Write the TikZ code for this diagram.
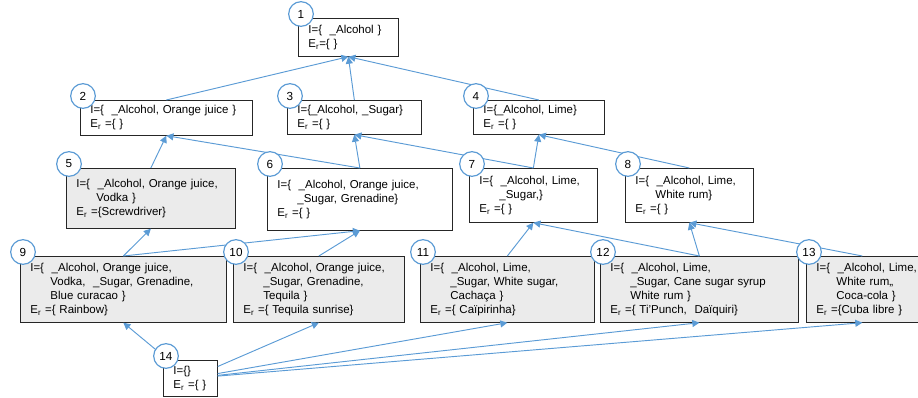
\documentclass[tikz,border=0pt]{standalone}
\usepackage{fontspec}
\setmainfont{Liberation Sans}
\usetikzlibrary{arrows.meta}

\definecolor{lineblue}{RGB}{91,155,213}
\definecolor{boxgrey}{RGB}{235,235,235}

% Folgezeile mit Einzug
\newcommand{\cont}{\\\hspace*{1.75em}}
\newcommand{\Er}{E\textsubscript{r}}

\tikzset{
	box/.style={draw=black!85, line width=0.6pt, fill=white, anchor=north west,
		align=left, inner xsep=0.3cm, inner ysep=0.1cm,
		font=\fontsize{9.8}{12}\selectfont},
	greybox/.style={box, fill=boxgrey},
	num/.style={circle, draw=lineblue, line width=1pt, fill=white,
		minimum size=0.74cm, inner sep=0pt, font=\fontsize{10}{12}\selectfont},
	edge/.style={draw=lineblue, line width=0.8pt,
		-{Triangle[length=6pt,width=6pt]}}
}

\begin{document}
\begin{tikzpicture}[x=0.03cm, y=-0.03cm]
	\useasboundingbox (0,0) rectangle (918,398);
	% Ebene 1
	\node[box, text width=2.4cm, minimum height=1.14cm] (n1) at (298,18)
		{I=\{\ \ \_Alcohol \}\\\Er=\{ \}};
	% Ebene 2
	\node[box, text width=4.56cm, minimum height=1.05cm] (n2) at (80,100)
		{I=\{\ \ \_Alcohol, Orange juice \}\\\Er\ =\{ \}};
	\node[box, text width=3.42cm, minimum height=1.02cm] (n3) at (287,100)
		{I=\{\_Alcohol, \_Sugar\}\\\Er\ =\{ \}};
	\node[box, text width=3.33cm, minimum height=1.02cm] (n4) at (473,100)
		{I=\{\_Alcohol, Lime\}\\\Er\ =\{ \}};
	% Ebene 3
	\node[greybox, text width=4.47cm, minimum height=1.8cm] (n5) at (66,168)
		{I=\{\ \ \_Alcohol, Orange juice,\cont Vodka \}\\\Er\ =\{Screwdriver\}};
	\node[box, text width=4.95cm, minimum height=1.86cm] (n6) at (267,168)
		{I=\{\ \ \_Alcohol, Orange juice,\cont \_Sugar, Grenadine\}\\\Er\ =\{ \}};
	\node[box, text width=3.24cm, minimum height=1.62cm] (n7) at (469,168)
		{I=\{\ \ \_Alcohol, Lime,\cont \_Sugar,\}\\\Er\ =\{ \}};
	\node[box, text width=3.24cm, minimum height=1.62cm] (n8) at (625,168)
		{I=\{\ \ \_Alcohol, Lime,\cont White rum\}\\\Er\ =\{ \}};
	% Ebene 4
	\node[greybox, text width=5.58cm, minimum height=1.98cm] (n9) at (20,256)
		{I=\{\ \ \_Alcohol, Orange juice,\cont Vodka,\ \ \_Sugar, Grenadine,\cont Blue curacao \}\\\Er\ =\{ Rainbow\}};
	\node[greybox, text width=4.53cm, minimum height=1.98cm] (n10) at (233,256)
		{I=\{\ \ \_Alcohol, Orange juice,\cont \_Sugar, Grenadine,\cont Tequila \}\\\Er\ =\{ Tequila sunrise\}};
	\node[greybox, text width=4.62cm, minimum height=1.98cm] (n11) at (420,256)
		{I=\{\ \ \_Alcohol, Lime,\cont \_Sugar, White sugar,\cont Cachaça \}\\\Er\ =\{ Caïpirinha\}};
	\node[greybox, text width=5.34cm, minimum height=1.98cm] (n12) at (600,256)
		{I=\{\ \ \_Alcohol, Lime,\cont \_Sugar, Cane sugar syrup\cont White rum \}\\\Er\ =\{ Ti'Punch,\ \ Daïquiri\}};
	\node[greybox, text width=2.76cm, minimum height=1.98cm] (n13) at (806,256)
		{\mbox{I=\{\ \ \_Alcohol, Lime,}\cont White rum,,\cont Coca-cola \}\\\Er\ =\{Cuba libre \}};
	% Ebene 5
	\node[box, text width=1.02cm, minimum height=1.08cm] (n14) at (163,360)
		{I=\{\}\\\Er\ =\{ \}};
	% Kanten
	\foreach \a/\b in {2/1,3/1,4/1,5/2,6/2,6/3,7/3,7/4,8/4,9/5,9/6,10/6,11/7,12/7,12/8,13/8}
		\draw[edge] (n\a.north) -- (n\b.south);
	\foreach \b in {9,...,13}
		\draw[edge] (n14) -- (n\b.south);
	% Nummern
	\foreach \i in {1,...,14}
		\node[num] (c\i) at ([shift={(3,-4)}]n\i.north west) {\i};
\end{tikzpicture}
\end{document}
